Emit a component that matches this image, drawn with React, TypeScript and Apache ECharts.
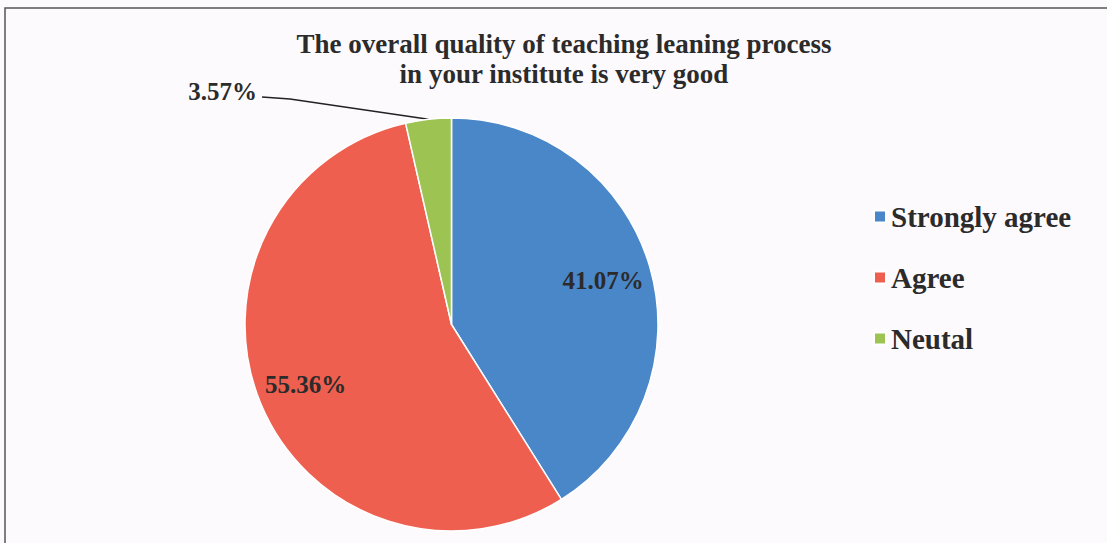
import React, { useEffect, useRef } from "react";
import * as echarts from "echarts";

const titleLines = ["The overall quality of teaching leaning process", "in your institute is very good"];
const categories = ["Strongly agree", "Agree", "Neutal"];
const values = [41.07, 55.36, 3.57];
const colors = ["#4a87c9", "#ef5f4f", "#9dc453"];

const FONT = "'Liberation Serif', 'Times New Roman', serif";
const CX = 451.5;
const CY = 324.5;
const R = 206.5;

export default function App() {
  const ref = useRef<HTMLDivElement>(null);
  useEffect(() => {
    document.body.style.margin = "0";
    const chart = echarts.init(ref.current!, null, { renderer: "svg" });
    const data = categories.map((name, i) => ({
      name,
      value: values[i],
      itemStyle: { color: colors[i] },
      label: { show: i === 2 },
      labelLine: { show: i === 2 },
    }));
    const total = values.reduce((a, b) => a + b, 0);
    const before = values[0] + values[1];
    const mid = ((before + values[2] / 2) / total) * 2 * Math.PI;
    const ex = CX + R * Math.sin(mid);
    const ey = CY - R * Math.cos(mid);
    chart.setOption({
      animation: false,
      backgroundColor: "#fdfafd",
      title: {
        text: titleLines.join("\n"),
        left: 559,
        top: 24,
        textAlign: "center",
        textStyle: { fontFamily: FONT, fontWeight: "bold", fontSize: 27, lineHeight: 30, color: "#2b2b2b" },
      },
      legend: {
        orient: "vertical",
        left: 868,
        top: 197,
        icon: "rect",
        itemWidth: 12,
        itemHeight: 12,
        itemGap: 32,
        data: categories,
        textStyle: { fontFamily: FONT, fontWeight: "bold", fontSize: 29, lineHeight: 29, color: "#2b2b2b" },
      },
      graphic: [
        { type: "rect", shape: { x: 5, y: 8, width: 1120, height: 560 }, style: { fill: "none", stroke: "#555", lineWidth: 1.5 }, silent: true },
      ],
      series: [
        {
          type: "pie",
          center: [CX, CY],
          radius: [0, R],
          startAngle: 90,
          clockwise: true,
          avoidLabelOverlap: false,
          itemStyle: { borderColor: "#ffffff", borderWidth: 1.5 },
          data,
          label: {
            formatter: (p: any) => p.value.toFixed(2) + "%",
            position: "outside",
            fontFamily: FONT,
            fontWeight: "bold",
            fontSize: 25,
            color: "#2b2b2b",
          },
          labelLine: { lineStyle: { color: "#222", width: 1.5 }, smooth: false },
          labelLayout: (p: any) =>
            p.dataIndex === 2
              ? {
                  x: 257,
                  y: 91,
                  align: "right",
                  verticalAlign: "middle",
                  labelLinePoints: [
                    [ex, ey],
                    [290, 99],
                    [262, 97],
                  ],
                }
              : {},
        },
        {
          type: "pie",
          center: [CX, CY],
          radius: [R * 0.5, R],
          startAngle: 90,
          clockwise: true,
          silent: true,
          itemStyle: { color: "transparent", borderWidth: 0 },
          data: categories.map((name, i) => ({ name: name + "_l", value: values[i], label: { show: i !== 2 } })),
          label: {
            position: "inside",
            formatter: (p: any) => p.value.toFixed(2) + "%",
            fontFamily: FONT,
            fontWeight: "bold",
            fontSize: 25,
            color: "#2b2b2b",
          },
          labelLine: { show: false },
        },
      ],
    });
    return () => chart.dispose();
  }, []);
  return <div ref={ref} style={{ width: 1107, height: 543 }} />;
}
